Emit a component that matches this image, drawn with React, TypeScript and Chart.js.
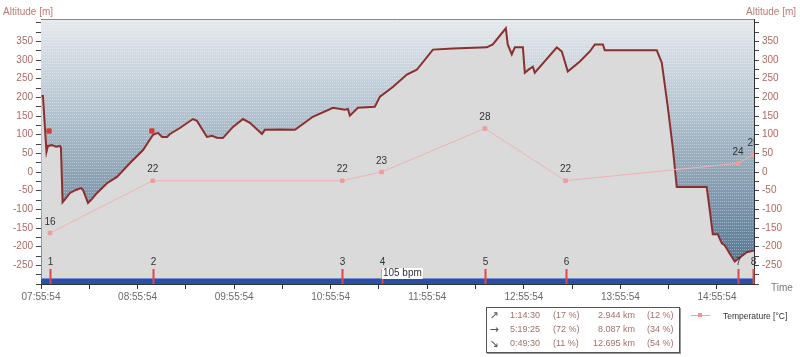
import React, { useEffect, useRef } from 'react';
import { Chart, registerables } from 'chart.js';

Chart.register(...registerables);

// ---- data (minutes from start 07:55:54) ----
const START_SECONDS = 7 * 3600 + 55 * 60 + 54;
const X_MAX = 443;
const Y_MIN = -300;
const Y_MAX = 410;

const altitudeMinutes = [
  0.3, 1.2, 3.4, 4.3, 6.8, 9.3, 11.8, 12.4, 13.4, 15.5, 18.0, 21.7, 24.8, 26.1, 29.2, 31.7, 34.8,
  41.0, 47.2, 55.3, 63.4, 69.6, 72.7, 75.2, 78.3, 80.1, 86.3, 94.4, 96.9, 103.1, 106.2, 109.3,
  113.0, 119.3, 125.5, 129.8, 137.3, 139.1, 148.4, 157.8, 168.9, 181.4, 188.8, 190.7, 191.9,
  196.9, 207.4, 210.6, 218.6, 227.3, 233.5, 243.5, 255.9, 277.0, 280.7, 288.8, 290.0, 292.5,
  294.4, 299.4, 300.6, 303.1, 305.6, 306.8, 320.5, 323.6, 327.3, 334.8, 341.0, 344.1, 349.1,
  350.3, 382.6, 385.7, 389.4, 392.5, 395.0, 413.6, 415.5, 417.4, 420.5, 423.0, 424.8, 427.9,
  431.0, 434.2, 438.5, 443.5,
];
const altitudeValues = [
  204, 204, 54, 70, 72, 68, 70, 65, -81, -70, -56, -48, -43, -48, -83, -72, -56,
  -30, -13, 24, 59, 100, 105, 94, 94, 102, 118, 142, 137, 94, 97, 92,
  91, 121, 142, 132, 102, 113, 114, 113, 148, 172, 167, 169, 151,
  172, 175, 202, 228, 261, 274, 328, 331, 334, 342, 385, 342, 315,
  334, 334, 266, 275, 282, 266, 334, 323, 269, 296, 323, 342, 342,
  326, 326, 293, 175, 67, -40, -40, -102, -167, -167, -191, -196, -218,
  -240, -229, -215, -210,
];

const lapMinutes = [5.6, 69.4, 187.2, 211.6, 275.8, 325.9, 433.1, 442.4];
const lapNumbers = ['1', '2', '3', '4', '5', '6', '7', '8'];
const temperatureValues = [16, 22, 22, 23, 28, 22, 24, 25];

const markerMinutes = [5.0, 68.9];
const markerValues = [110, 110];

const heartRateLabelMinute = 211.8;
const heartRateLabel = '105 bpm';

const xTickMinutes = [0, 30, 60, 90, 120, 150, 180, 210, 240, 270, 300, 330, 360, 390, 420];
const yTickValues = [
  -300, -275, -250, -225, -200, -175, -150, -125, -100, -75, -50, -25, 0, 25, 50, 75, 100,
  125, 150, 175, 200, 225, 250, 275, 300, 325, 350, 375, 400,
];
const yLabelValues = [-250, -200, -150, -100, -50, 0, 50, 100, 150, 200, 250, 300, 350];

const summaryArrows = ['\u2197', '\u2192', '\u2198'];
const summaryTimes = ['1:14:30', '5:19:25', '0:49:30'];
const summaryTimePct = ['(17 %)', '(72 %)', '(11 %)'];
const summaryDistances = ['2.944 km', '8.087 km', '12.695 km'];
const summaryDistPct = ['(12 %)', '(34 %)', '(54 %)'];

// temperature shares the altitude axis through this linear mapping: 23 °C <-> 0 m, 6 °C <-> 140 m
const T_REF = 23;
const T_PER_M = 6 / 140;
const T_MIN = T_REF + Y_MIN * T_PER_M;
const T_MAX = T_REF + Y_MAX * T_PER_M;

const FONT = "'Liberation Sans', Arial, sans-serif";
const Y_LABEL_COLOR = '#ad6a62';

function fmtTime(min: number): string {
  const s = START_SECONDS + Math.round(min * 60);
  const h = Math.floor(s / 3600) % 24;
  const m = Math.floor((s % 3600) / 60);
  const sec = s % 60;
  const p = (n: number) => String(n).padStart(2, '0');
  return `${p(h)}:${p(m)}:${p(sec)}`;
}

const backgroundPlugin = {
  id: 'plotBackground',
  beforeDatasetsDraw(chart: any) {
    const { ctx, chartArea: a } = chart;
    ctx.save();
    const g = ctx.createLinearGradient(0, a.top, 0, a.bottom);
    g.addColorStop(0, '#e4e9ed');
    g.addColorStop(0.35, '#b4c3cf');
    g.addColorStop(0.7, '#7b94a9');
    g.addColorStop(1, '#4a6c8a');
    ctx.fillStyle = g;
    ctx.fillRect(a.left, a.top, a.right - a.left, a.bottom - a.top);
    const pc = document.createElement('canvas');
    pc.width = 2;
    pc.height = 3;
    const p = pc.getContext('2d')!;
    p.fillStyle = 'rgba(255,255,255,0.35)';
    p.fillRect(0, 0, 1, 1);
    const pat = ctx.createPattern(pc, 'repeat');
    if (pat) {
      ctx.fillStyle = pat;
      ctx.fillRect(a.left, a.top, a.right - a.left, a.bottom - a.top);
    }
    ctx.restore();
  },
};

const overlayPlugin = {
  id: 'overlay',
  afterDatasetsDraw(chart: any) {
    const { ctx, chartArea: a, scales } = chart;
    const xs = scales.x;
    const yT = scales.yT;
    ctx.save();
    // heart-rate band
    ctx.fillStyle = '#2b4fa6';
    ctx.fillRect(a.left, a.bottom - 6, a.right - a.left, 6);
    ctx.fillStyle = '#6f92d6';
    ctx.fillRect(a.left, a.bottom - 6, a.right - a.left, 1);

    // lap markers
    ctx.font = `10px ${FONT}`;
    ctx.textAlign = 'center';
    ctx.textBaseline = 'middle';
    lapMinutes.forEach((m, i) => {
      const px = Math.round(xs.getPixelForValue(m)) + 0.5;
      ctx.strokeStyle = '#e04848';
      ctx.lineWidth = 2;
      ctx.beginPath();
      ctx.moveTo(px, a.bottom - 15);
      ctx.lineTo(px, a.bottom);
      ctx.stroke();
      ctx.fillStyle = '#333';
      ctx.fillText(lapNumbers[i], px, a.bottom - 22);
    });

    // heart-rate label
    const hx = xs.getPixelForValue(heartRateLabelMinute);
    ctx.font = `10px ${FONT}`;
    const tw = ctx.measureText(heartRateLabel).width;
    ctx.fillStyle = '#ffffff';
    ctx.fillRect(hx, a.bottom - 16, tw + 2, 11);
    ctx.fillStyle = '#333';
    ctx.textAlign = 'left';
    ctx.fillText(heartRateLabel, hx + 1, a.bottom - 10.5);

    // temperature value labels (clipped)
    ctx.beginPath();
    ctx.rect(a.left, a.top, a.right - a.left, a.bottom - a.top);
    ctx.clip();
    ctx.textAlign = 'center';
    ctx.fillStyle = '#333';
    lapMinutes.forEach((m, i) => {
      const px = xs.getPixelForValue(m);
      const py = yT.getPixelForValue(temperatureValues[i]);
      ctx.fillText(String(temperatureValues[i]), px, py - 11);
    });
    ctx.restore();

    // top border
    ctx.save();
    ctx.strokeStyle = '#8a8a8a';
    ctx.lineWidth = 1;
    ctx.beginPath();
    ctx.moveTo(a.left, a.top + 0.5);
    ctx.lineTo(a.right, a.top + 0.5);
    ctx.stroke();
    ctx.restore();
  },
};

function yAxis(position: 'left' | 'right', width: number) {
  return {
    type: 'linear',
    position,
    min: Y_MIN,
    max: Y_MAX,
    afterFit: (s: any) => {
      s.width = width;
    },
    afterBuildTicks: (s: any) => {
      s.ticks = yTickValues.map((v) => ({ value: v }));
    },
    grid: { drawOnChartArea: false, drawTicks: true, tickLength: 5, color: '#444' },
    border: { color: '#333', width: 1 },
    ticks: {
      autoSkip: false,
      padding: 3,
      color: Y_LABEL_COLOR,
      font: { size: 10, family: FONT },
      callback: (v: any) => (yLabelValues.includes(Number(v)) ? String(v) : ''),
    },
  };
}

export default function App() {
  const canvasRef = useRef<HTMLCanvasElement | null>(null);

  useEffect(() => {
    if (!canvasRef.current) return;
    const altitude = altitudeMinutes.map((m, i) => ({ x: m, y: altitudeValues[i] }));
    const temperature = lapMinutes.map((m, i) => ({ x: m, y: temperatureValues[i] }));
    const markers = markerMinutes.map((m, i) => ({ x: m, y: markerValues[i] }));

    const chart = new Chart(canvasRef.current, {
      type: 'line',
      data: {
        datasets: [
          {
            label: 'Temperature [°C]',
            data: temperature,
            yAxisID: 'yT',
            borderColor: '#f1b2b2',
            borderWidth: 1,
            pointStyle: 'rect',
            pointRadius: 2.5,
            pointBackgroundColor: '#ef9c9c',
            pointBorderColor: '#ef9c9c',
            fill: false,
            order: 1,
          },
          {
            label: 'markers',
            data: markers,
            yAxisID: 'y',
            showLine: false,
            pointStyle: 'rect',
            pointRadius: 3,
            pointBackgroundColor: '#d83a3a',
            pointBorderColor: '#d83a3a',
            order: 0,
          },
          {
            label: 'Altitude',
            data: altitude,
            yAxisID: 'y',
            borderColor: '#8c2f2f',
            borderWidth: 2,
            backgroundColor: '#dadada',
            fill: 'start',
            pointRadius: 0,
            tension: 0,
            order: 2,
          },
        ],
      },
      options: {
        responsive: false,
        animation: false,
        devicePixelRatio: 1,
        layout: { padding: { top: 19, left: 0, right: 0, bottom: 0 } },
        plugins: {
          legend: { display: false },
          tooltip: { enabled: false },
        },
        scales: {
          x: {
            type: 'linear',
            position: 'bottom',
            min: 0,
            max: X_MAX,
            afterFit: (s: any) => {
              s.height = 73;
            },
            afterBuildTicks: (s: any) => {
              s.ticks = xTickMinutes.map((v) => ({ value: v }));
            },
            grid: { drawOnChartArea: false, drawTicks: true, tickLength: 5, color: '#333' },
            border: { color: '#333', width: 1 },
            ticks: {
              autoSkip: false,
              maxRotation: 0,
              padding: 2,
              color: '#6a6a6a',
              font: { size: 10, family: FONT },
              callback: (v: any) => (Number(v) % 60 === 0 ? fmtTime(Number(v)) : ''),
            },
          },
          y: yAxis('left', 41) as any,
          y2: yAxis('right', 46) as any,
          yT: { type: 'linear', display: false, min: T_MIN, max: T_MAX },
        },
      } as any,
      plugins: [backgroundPlugin, overlayPlugin],
    });
    return () => chart.destroy();
  }, []);

  const textBase: React.CSSProperties = {
    position: 'absolute',
    fontFamily: FONT,
    whiteSpace: 'nowrap',
    lineHeight: 1,
  };
  const rowTops = [311, 325, 339];

  return (
    <div style={{ position: 'fixed', left: 0, top: 0, width: 800, height: 357, background: '#fff', overflow: 'hidden' }}>
      <canvas ref={canvasRef} width={800} height={357} style={{ position: 'absolute', left: 0, top: 0 }} />
      <div style={{ ...textBase, left: 3, top: 7, fontSize: 10, color: '#b87a74' }}>Altitude [m]</div>
      <div style={{ ...textBase, left: 746, top: 7, fontSize: 10, color: '#b87a74' }}>Altitude [m]</div>
      <div style={{ ...textBase, left: 771, top: 283, fontSize: 10, color: '#777' }}>Time</div>

      <div
        style={{
          position: 'absolute',
          left: 486,
          top: 307,
          width: 192,
          height: 44,
          border: '1px solid #555',
          boxShadow: '1px 1px 0 #999',
          background: '#fff',
        }}
      />
      {rowTops.map((t, i) => (
        <React.Fragment key={i}>
          <div style={{ ...textBase, left: 487, width: 14, top: t - 1, fontSize: 11, fontFamily: "'DejaVu Sans', sans-serif", color: '#555', textAlign: 'center' }}>{summaryArrows[i]}</div>
          <div style={{ ...textBase, left: 500, width: 40, top: t, fontSize: 9, color: '#a0726a', textAlign: 'right' }}>{summaryTimes[i]}</div>
          <div style={{ ...textBase, left: 553, top: t, fontSize: 9, color: '#a0726a' }}>{summaryTimePct[i]}</div>
          <div style={{ ...textBase, left: 585, width: 50, top: t, fontSize: 9, color: '#a0726a', textAlign: 'right' }}>{summaryDistances[i]}</div>
          <div style={{ ...textBase, left: 647, top: t, fontSize: 9, color: '#a0726a' }}>{summaryDistPct[i]}</div>
        </React.Fragment>
      ))}

      <div style={{ position: 'absolute', left: 691, top: 315, width: 19, height: 1, background: '#f1a6a6' }} />
      <div style={{ position: 'absolute', left: 698, top: 313, width: 4, height: 4, background: '#ee9494' }} />
      <div style={{ ...textBase, left: 723, top: 312, fontSize: 8.5, color: '#333' }}>Temperature [°C]</div>
    </div>
  );
}
